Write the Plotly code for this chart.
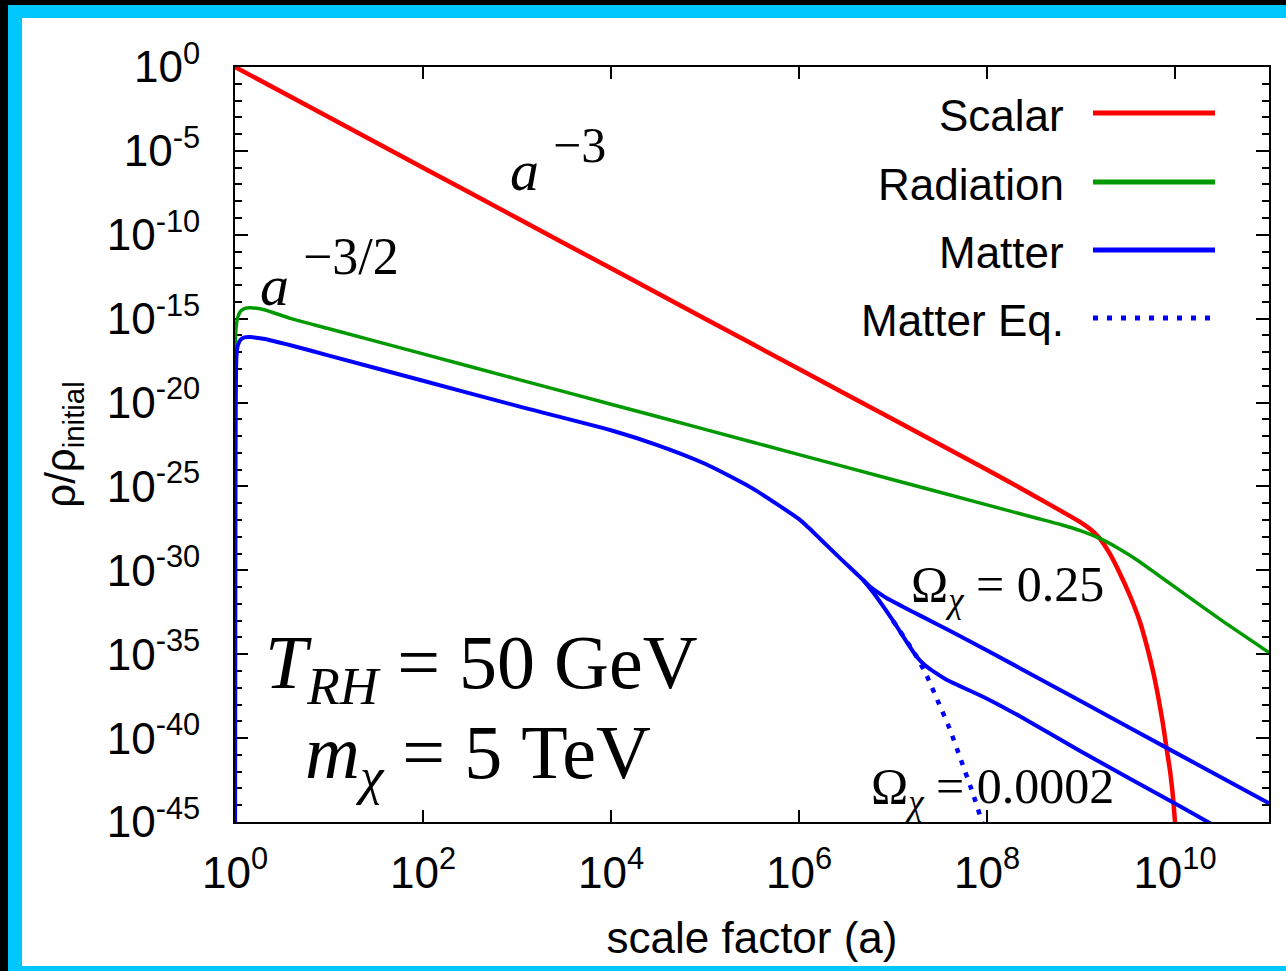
import numpy as np
import plotly.graph_objects as go

# ---------------- data (log10 values) ----------------
scalar_log_a = [0.0, 1.0, 2.0, 3.0, 4.0, 5.0, 6.0, 7.0, 8.0, 8.5, 8.8, 9.0, 9.1, 9.2,
                9.3, 9.41, 9.52, 9.63, 9.7, 9.77, 9.82, 9.87, 9.91, 9.95, 9.98, 10.0, 10.02]
scalar_log_rho = [0.0, -3.0, -6.0, -9.0, -12.0, -15.0, -18.0, -21.0, -24.0, -25.55, -26.5,
                  -27.15, -27.55, -28.1, -28.95, -30.14, -31.5, -33.12, -34.5, -36.1, -37.5,
                  -39.09, -40.6, -42.07, -43.6, -45.0, -46.5]

rad_log_a = [0.0, 0.01, 0.03, 0.06, 0.1, 0.16, 0.3, 0.6, 1.0, 2.0, 3.0, 4.0, 5.0, 6.0,
             7.0, 8.0, 8.5, 8.8, 9.0, 9.2, 9.4, 9.6, 9.8, 10.0, 10.5, 11.0]
rad_log_rho = [-16.9, -15.6, -14.9, -14.55, -14.4, -14.35, -14.45, -15.0, -15.6, -17.1,
               -18.6, -20.1, -21.6, -23.1, -24.6, -26.1, -26.85, -27.3, -27.65, -28.1,
               -28.7, -29.4, -30.2, -31.0, -33.0, -34.9]

# Matter, Omega_chi = 0.25 (full curve)
matter_log_a = [0.0, 0.004, 0.008, 0.015, 0.03, 0.06, 0.1, 0.16, 0.3, 0.6, 1.0, 2.0, 3.0,
                4.0, 4.5, 5.0, 5.5, 6.0, 6.1, 6.22, 6.45, 6.68, 6.75, 6.85, 6.93, 7.1, 7.29,
                7.64, 8.35, 9.0, 10.0, 11.0]
matter_log_rho = [-50.0, -30.0, -20.0, -17.3, -16.6, -16.25, -16.12, -16.1, -16.2, -16.6,
                  -17.2, -18.7, -20.2, -21.65, -22.55, -23.65, -25.1, -26.95, -27.45, -28.1,
                  -29.35, -30.56, -30.95, -31.35, -31.65, -32.15, -32.7, -33.7, -35.83,
                  -37.8, -40.85, -43.88]

# Matter, Omega_chi = 0.0002 (branch after the split)
matter2_log_a = [6.68, 6.8, 7.0, 7.25, 7.35, 7.45, 7.57, 8.0, 8.35, 9.0, 10.0, 10.35, 10.5]
matter2_log_rho = [-30.56, -31.4, -33.0, -35.13, -35.7, -36.1, -36.52, -37.65, -38.7,
                   -40.8, -43.9, -45.0, -45.5]

# Matter equilibrium (dotted)
eq_log_a = [7.0, 7.25, 7.36, 7.47, 7.6, 7.71, 7.85, 7.95, 8.0]
eq_log_rho = [-33.0, -35.13, -36.3, -37.7, -39.4, -41.1, -43.3, -45.05, -46.0]

x_tick_exp = [0, 2, 4, 6, 8, 10]
y_tick_exp = [0, -5, -10, -15, -20, -25, -30, -35, -40, -45]
legend_names = ["Scalar", "Radiation", "Matter", "Matter Eq."]

# ---------------- layout geometry ----------------
W, H = 1286, 971
L, R, T, B = 235, 1269, 67, 822


def px(x):
    return (x - L) / (R - L)


def py(y):
    return (B - y) / (B - T)


RED, GREEN, BLUE = "#ff0000", "#009900", "#0000ff"
CYAN = "#00c8ff"
SANS = "Liberation Sans, Arial, sans-serif"
SERIF = "Liberation Serif, Times New Roman, serif"


def tv(v):
    return 10 ** np.array(v, dtype=float)


SM = 0.6
fig = go.Figure()
fig.add_trace(go.Scatter(x=tv(scalar_log_a), y=tv(scalar_log_rho), mode="lines",
                         line=dict(color=RED, width=4.5, shape="spline", smoothing=SM),
                         name=legend_names[0]))
fig.add_trace(go.Scatter(x=tv(rad_log_a), y=tv(rad_log_rho), mode="lines",
                         line=dict(color=GREEN, width=3.5, shape="spline", smoothing=SM),
                         name=legend_names[1]))
fig.add_trace(go.Scatter(x=tv(eq_log_a), y=tv(eq_log_rho), mode="lines",
                         line=dict(color=BLUE, width=4.5, dash="5px,8px", shape="spline", smoothing=SM),
                         name=legend_names[3]))
fig.add_trace(go.Scatter(x=tv(matter_log_a), y=tv(matter_log_rho), mode="lines",
                         line=dict(color=BLUE, width=4, shape="spline", smoothing=SM),
                         name=legend_names[2]))
fig.add_trace(go.Scatter(x=tv(matter2_log_a), y=tv(matter2_log_rho), mode="lines",
                         line=dict(color=BLUE, width=4, shape="spline", smoothing=SM),
                         name=legend_names[2] + " (2)"))

axis_font = dict(family=SANS, size=44, color="black")

fig.update_xaxes(
    type="log", range=[0, 11],
    tickmode="array", tickvals=[10.0 ** e for e in x_tick_exp],
    ticktext=[f"10<sup>{e}</sup>" for e in x_tick_exp],
    ticks="inside", ticklen=12, tickwidth=2, tickcolor="black",
    showline=True, linewidth=2, linecolor="black", mirror="ticks",
    showgrid=False, zeroline=False, tickfont=axis_font, layer="below traces",
    ticklabelstandoff=11,
    title=dict(text="scale factor (a)", font=dict(family=SANS, size=44, color="black"), standoff=26),
)
fig.update_yaxes(
    type="log", range=[-45, 0],
    tickmode="array", tickvals=[10.0 ** e for e in y_tick_exp],
    ticktext=[f"10<sup>{e}</sup>" for e in y_tick_exp],
    ticks="inside", ticklen=13, tickwidth=2, tickcolor="black",
    minor=dict(ticks="inside", ticklen=7, tickwidth=1.5, tickcolor="black",
               tickmode="array", tickvals=[10.0 ** (-k) for k in range(46)], showgrid=False),
    showline=True, linewidth=2, linecolor="black", mirror="ticks",
    showgrid=False, zeroline=False, tickfont=axis_font, layer="below traces",
    ticklabelstandoff=24,
    title=dict(text="ρ/ρ<sub>initial</sub>", font=dict(family=SANS, size=42, color="black"), standoff=18),
)

shapes = [
    # frame: black bars, white inner panel on the cyan paper
    dict(type="rect", xref="paper", yref="paper", x0=px(0), x1=px(8), y0=py(H + 5), y1=py(-5),
         fillcolor="black", line_width=0, layer="below"),
    dict(type="rect", xref="paper", yref="paper", x0=px(0), x1=px(W + 5), y0=py(5), y1=py(-5),
         fillcolor="black", line_width=0, layer="below"),
    dict(type="rect", xref="paper", yref="paper", x0=px(22), x1=px(W + 5), y0=py(966), y1=py(18),
         fillcolor="white", line_width=0, layer="below"),
]
# manual legend (text on the left, line sample on the right)
leg_y = [113, 182, 250, 318]
leg_style = [(RED, "solid"), (GREEN, "solid"), (BLUE, "solid"), (BLUE, "5px,9px")]
annotations = []
for name, yy, (col, dash) in zip(legend_names, leg_y, leg_style):
    shapes.append(dict(type="line", xref="paper", yref="paper", x0=px(1093), x1=px(1215),
                       y0=py(yy), y1=py(yy), line=dict(color=col, width=5, dash=dash)))
    annotations.append(dict(xref="paper", yref="paper", x=px(1066), y=py(yy + 2), text=name,
                            showarrow=False, xanchor="right", yanchor="middle",
                            font=dict(family=SANS, size=44, color="black")))

math_notes = [
    (508, 170, "<i>a</i>", 58, "left"),
    (551, 145, "−3", 50, "left"),
    (258, 285, "<i>a</i>", 58, "left"),
    (301, 256, "−3/2", 52, "left"),
    (481, 668, "<i>T</i><sub><i>RH</i></sub> = 50 GeV", 76, "center"),
    (478, 758, "<i>m</i><sub><i>χ</i></sub> = 5 TeV", 76, "center"),
    (1007, 588, "Ω<sub><i>χ</i></sub> = 0.25", 50, "center"),
    (992, 790, "Ω<sub><i>χ</i></sub> = 0.0002", 50, "center"),
]
for x0, y0, txt, size, anc in math_notes:
    annotations.append(dict(xref="paper", yref="paper", x=px(x0), y=py(y0), text=txt,
                            showarrow=False, xanchor=anc, yanchor="middle",
                            font=dict(family=SERIF, size=size, color="black")))

fig.update_layout(
    width=W, height=H,
    margin=dict(l=L, r=W - R, t=T, b=H - B, autoexpand=False),
    paper_bgcolor=CYAN, plot_bgcolor="rgba(0,0,0,0)",
    showlegend=False, shapes=shapes, annotations=annotations,
)

fig.write_html("out.html")
